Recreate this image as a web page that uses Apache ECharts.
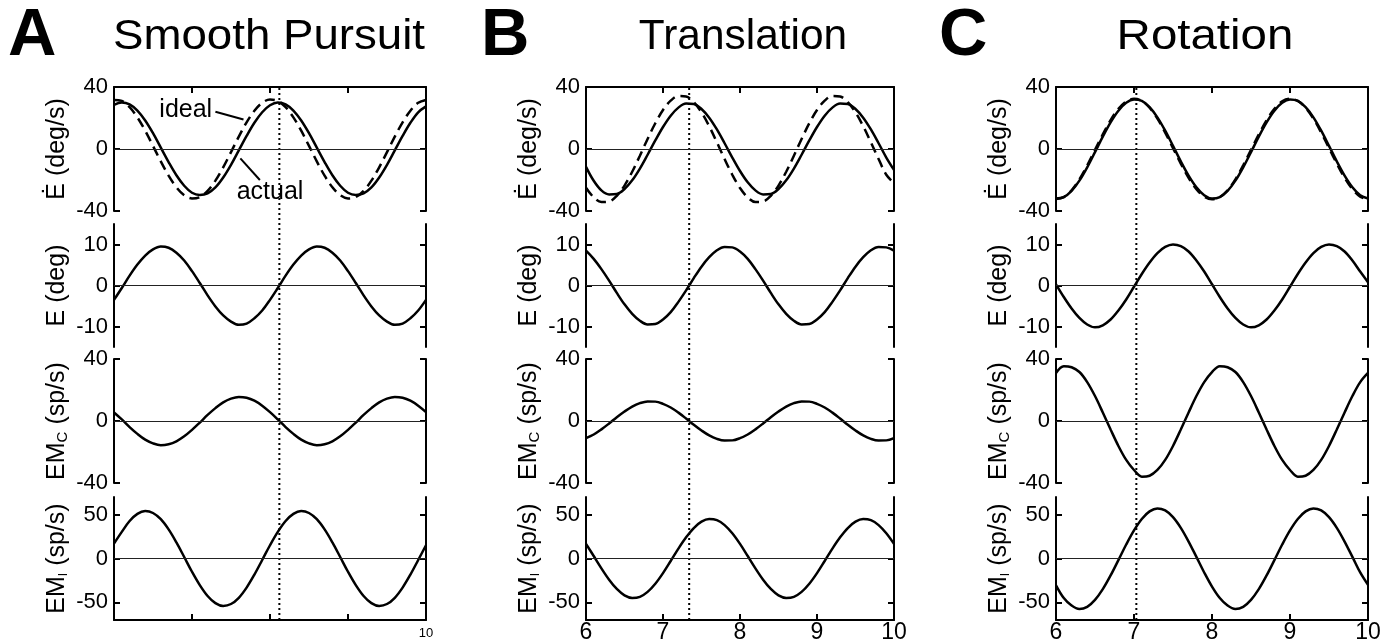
<!DOCTYPE html>
<html>
<head>
<meta charset="utf-8">
<title>Smooth Pursuit / Translation / Rotation</title>
<script src="https://cdn.jsdelivr.net/npm/echarts@6/dist/echarts.min.js"></script>
<style>
  html, body { margin: 0; padding: 0; background: #fff; }
  #chart { width: 1396px; height: 644px; }
</style>
</head>
<body>
<div id="chart"></div>
<script>
// time axis (s)
var timeS = [6.0, 6.1, 6.2, 6.3, 6.4, 6.5, 6.6, 6.7, 6.8, 6.9,
  7.0, 7.1, 7.2, 7.3, 7.4, 7.5, 7.6, 7.7, 7.8, 7.9,
  8.0, 8.1, 8.2, 8.3, 8.4, 8.5, 8.6, 8.7, 8.8, 8.9,
  9.0, 9.1, 9.2, 9.3, 9.4, 9.5, 9.6, 9.7, 9.8, 9.9, 10.0];

// A - smooth pursuit
var pursuitVelIdeal = [31.6, 31.0, 27.0, 20.4, 11.8, 2.0, -8.0, -17.2, -24.7, -29.8,
  -31.9, -31.0, -27.0, -20.4, -11.8, -2.0, 8.0, 17.2, 24.7, 29.8,
  31.9, 31.0, 27.0, 20.4, 11.8, 2.0, -8.0, -17.2, -24.7, -29.8,
  -31.9, -31.0, -27.0, -20.4, -11.8, -2.0, 8.0, 17.2, 24.7, 29.8, 31.6];
var pursuitVelActual = [28.5, 30.0, 28.8, 24.8, 18.4, 10.2, 0.9, -8.4, -16.9, -23.7,
  -28.2, -29.6, -28.6, -24.8, -18.4, -10.2, -0.9, 8.4, 16.9, 23.7,
  28.2, 30.0, 28.8, 24.8, 18.4, 10.2, 0.9, -8.4, -16.9, -23.7,
  -28.2, -29.6, -28.6, -24.8, -18.4, -10.2, -0.9, 8.4, 16.9, 23.7, 27.5];
var pursuitPos = [-3.5, -0.6, 2.4, 5.1, 7.3, 8.8, 9.5, 9.2, 8.0, 6.1,
  3.5, 0.6, -2.4, -5.1, -7.3, -8.8, -9.6, -9.3, -8.0, -6.1,
  -3.5, -0.6, 2.4, 5.1, 7.3, 8.8, 9.5, 9.2, 8.0, 6.1,
  3.5, 0.6, -2.4, -5.1, -7.3, -8.8, -9.6, -9.3, -8.0, -6.1, -3.5];
var pursuitEMc = [5.5, 1.0, -3.9, -8.3, -12.0, -14.4, -15.6, -15.0, -13.1, -9.9,
  -5.7, -1.0, 3.9, 8.3, 12.0, 14.4, 15.5, 15.0, 13.1, 9.9,
  5.7, 1.0, -3.9, -8.3, -12.0, -14.4, -15.6, -15.0, -13.1, -9.9,
  -5.7, -1.0, 3.9, 8.3, 12.0, 14.4, 15.5, 15.0, 13.1, 9.9, 5.7];
var pursuitEMi = [17.0, 30.3, 42.7, 50.8, 54.0, 51.8, 44.7, 33.1, 18.3, 1.7,
  -15.1, -30.3, -42.7, -50.8, -54.0, -51.8, -44.7, -33.1, -18.3, -1.7,
  15.1, 30.3, 42.7, 50.8, 54.0, 51.8, 44.7, 33.1, 18.3, 1.7,
  -15.1, -30.3, -42.7, -50.8, -54.0, -51.8, -44.7, -33.1, -18.3, -1.7, 15.1];

// B - translation
var translationVelIdeal = [-25.0, -31.2, -34.2, -33.9, -30.2, -23.6, -14.7, -4.3, 6.5, 16.6,
  25.2, 31.2, 34.2, 33.9, 30.2, 23.6, 14.7, 4.3, -6.5, -16.6,
  -25.2, -31.2, -34.2, -33.9, -30.2, -23.6, -14.7, -4.3, 6.5, 16.6,
  25.2, 31.2, 34.2, 33.9, 30.2, 23.6, 14.7, 4.3, -6.5, -16.6, -22.0];
var translationVelActual = [-11.5, -20.5, -26.7, -29.3, -29.0, -25.8, -20.2, -12.6, -3.7, 5.5,
  14.2, 21.5, 26.7, 29.3, 29.0, 25.8, 20.2, 12.6, 3.7, -5.5,
  -14.2, -21.5, -26.7, -29.3, -29.0, -25.8, -20.2, -12.6, -3.7, 5.5,
  14.2, 21.5, 26.7, 29.3, 29.0, 25.8, 20.2, 12.6, 3.7, -5.5, -13.5];
var translationPos = [8.5, 6.5, 4.0, 1.2, -1.8, -4.6, -6.9, -8.6, -9.5, -9.4,
  -8.3, -6.5, -4.0, -1.2, 1.8, 4.6, 6.9, 8.6, 9.4, 9.3,
  8.3, 6.5, 4.0, 1.2, -1.8, -4.6, -6.9, -8.6, -9.5, -9.4,
  -8.3, -6.5, -4.0, -1.2, 1.8, 4.6, 6.9, 8.6, 9.4, 9.3, 8.5];
var translationEMc = [-11.0, -8.7, -5.4, -1.6, 2.4, 6.1, 9.3, 11.5, 12.6, 12.5,
  11.1, 8.7, 5.4, 1.6, -2.4, -6.1, -9.3, -11.5, -12.6, -12.5,
  -11.1, -8.7, -5.4, -1.6, 2.4, 6.1, 9.3, 11.5, 12.6, 12.5,
  11.1, 8.7, 5.4, 1.6, -2.4, -6.1, -9.3, -11.5, -12.6, -12.5, -11.0];
var translationEMi = [16.6, 2.8, -11.2, -24.1, -34.7, -41.9, -44.9, -43.6, -38.0, -28.7,
  -16.6, -2.8, 11.2, 24.1, 34.7, 41.9, 44.9, 43.6, 38.0, 28.7,
  16.6, 2.8, -11.2, -24.1, -34.7, -41.9, -44.9, -43.6, -38.0, -28.7,
  -16.6, -2.8, 11.2, 24.1, 34.7, 41.9, 44.9, 43.6, 38.0, 28.7, 16.6];

// C - rotation
var rotationVelIdeal = [-32.3, -31.0, -26.6, -19.6, -10.6, -0.6, 9.4, 18.6, 25.9, 30.7,
  32.4, 31.0, 26.6, 19.6, 10.6, 0.6, -9.4, -18.6, -25.9, -30.7,
  -32.4, -31.0, -26.6, -19.6, -10.6, -0.6, 9.4, 18.6, 25.9, 30.7,
  32.4, 31.0, 26.6, 19.6, 10.6, 0.6, -9.4, -18.6, -25.9, -30.7, -32.3];
var rotationVelActual = [-31.9, -31.0, -27.0, -20.4, -11.8, -2.0, 8.0, 17.2, 24.7, 29.8,
  31.9, 31.0, 27.0, 20.4, 11.8, 2.0, -8.0, -17.2, -24.7, -29.8,
  -31.9, -31.0, -27.0, -20.4, -11.8, -2.0, 8.0, 17.2, 24.7, 29.8,
  31.9, 31.0, 27.0, 20.4, 11.8, 2.0, -8.0, -17.2, -24.7, -29.8, -31.9];
var rotationPos = [0.3, -2.8, -5.6, -7.9, -9.5, -10.2, -9.7, -8.3, -6.1, -3.4,
  -0.3, 2.8, 5.6, 7.9, 9.4, 10.0, 9.6, 8.3, 6.1, 3.4,
  0.3, -2.8, -5.6, -7.9, -9.5, -10.2, -9.7, -8.3, -6.1, -3.4,
  -0.3, 2.8, 5.6, 7.9, 9.4, 10.0, 9.6, 8.3, 6.1, 3.4, 0.8];
var rotationEMc = [31.0, 35.4, 34.7, 31.6, 25.1, 16.1, 5.5, -5.5, -16.1, -25.1,
  -31.6, -35.9, -35.3, -31.6, -25.1, -16.1, -5.5, 5.5, 16.1, 25.1,
  31.6, 35.4, 34.7, 31.6, 25.1, 16.1, 5.5, -5.5, -16.1, -25.1,
  -31.6, -35.9, -35.3, -31.6, -25.1, -16.1, -5.5, 5.5, 16.1, 25.1, 31.0];
var rotationEMi = [-30.5, -45.0, -53.6, -57.5, -55.0, -47.1, -34.9, -19.3, -1.8, 15.9,
  32.0, 45.0, 53.6, 57.0, 54.7, 47.1, 34.9, 19.3, 1.8, -15.9,
  -32.0, -45.0, -53.6, -57.5, -55.0, -47.1, -34.9, -19.3, -1.8, 15.9,
  32.0, 45.0, 53.6, 57.0, 54.7, 47.1, 34.9, 19.3, 1.8, -15.9, -30.0];

// vertical cursor time for each panel
var cursorTimes = [8.12, 7.34, 7.03];
var cursorSpan = [0, 1];

// tick labels
var xTickLabelsA = [10];
var xTickLabelsBC = [6, 7, 8, 9, 10];
var velTicks = [-40, 0, 40];
var posTicks = [-10, 0, 10];
var emcTicks = [-40, 0, 40];
var emiTicks = [-50, 0, 50];

// "ideal" / "actual" notes in panel A (data coords)
var idealNote = { text: 'ideal', at: [6.92, 25], arrow: [[7.30, 24], [7.66, 19]] };
var actualNote = { text: 'actual', at: [8.0, -28], arrow: [[7.87, -20], [7.62, -6]] };

var FONT = '"Liberation Sans", Arial, Helvetica, sans-serif';

var panels = [
  { letter: 'A', title: 'Smooth Pursuit', left: 114, width: 312, letterX: 8, titleX: 269, titleScale: 1.087,
    data: [[pursuitVelIdeal, pursuitVelActual], pursuitPos, pursuitEMc, pursuitEMi],
    xLabels: xTickLabelsA, xLabelSize: 13, xLabelMargin: 7 },
  { letter: 'B', title: 'Translation', left: 586, width: 308, letterX: 481, titleX: 743, titleScale: 1.01,
    data: [[translationVelIdeal, translationVelActual], translationPos, translationEMc, translationEMi],
    xLabels: xTickLabelsBC, xLabelSize: 23, xLabelMargin: 1 },
  { letter: 'C', title: 'Rotation', left: 1056, width: 312, letterX: 939, titleX: 1205, titleScale: 1.13,
    data: [[rotationVelIdeal, rotationVelActual], rotationPos, rotationEMc, rotationEMi],
    xLabels: xTickLabelsBC, xLabelSize: 23, xLabelMargin: 1 }
];

var rows = [
  { top: 87, height: 124, min: -40, max: 40, ticks: velTicks, name: '\u0116 (deg/s)' },
  { top: 224, height: 123, min: -15, max: 15, ticks: posTicks, name: 'E (deg)' },
  { top: 359, height: 124, min: -40, max: 40, ticks: emcTicks, name: '{m|EM}{c|C}{m| (sp/s)}' },
  { top: 497, height: 123, min: -70, max: 70, ticks: emiTicks, name: '{m|EM}{i|I}{m| (sp/s)}' }
];

function pairs(ys) {
  return timeS.map(function (t, i) { return [t, ys[i]]; });
}

var black = '#000';
var axisLineStyle = { color: black, width: 2 };
var zeroLine = {
  silent: true, symbol: ['none', 'none'], label: { show: false },
  lineStyle: { color: '#222', width: 1, type: 'solid' },
  data: [{ yAxis: 0 }]
};

var grids = [], xAxes = [], yAxes = [], series = [], graphics = [];

panels.forEach(function (p) {
  rows.forEach(function (r, ri) {
    var g = grids.length;
    grids.push({ left: p.left, top: r.top, width: p.width, height: r.height });

    var xa = {
      type: 'value', gridIndex: g, min: 6, max: 10, interval: 1,
      splitLine: { show: false },
      axisLine: { show: true, onZero: false, lineStyle: axisLineStyle },
      axisTick: { show: true, inside: true, length: 6, lineStyle: axisLineStyle },
      axisLabel: { show: false }
    };
    if (ri === 0) {
      xa.position = 'top';
    } else if (ri === 3) {
      xa.position = 'bottom';
      xa.axisLabel = {
        show: true, customValues: p.xLabels, fontSize: p.xLabelSize,
        fontFamily: FONT, color: black, margin: p.xLabelMargin
      };
    } else {
      xa.show = false;
    }
    xAxes.push(xa);

    var yBase = {
      type: 'value', gridIndex: g, min: r.min, max: r.max,
      splitLine: { show: false },
      axisLine: { show: true, onZero: false, lineStyle: axisLineStyle },
      axisTick: { show: true, inside: true, length: 6, customValues: r.ticks, lineStyle: axisLineStyle }
    };
    yAxes.push(Object.assign({}, yBase, {
      position: 'left',
      axisLabel: { customValues: r.ticks, fontSize: 22, fontFamily: FONT, color: black, margin: 6 },
      name: r.name, nameLocation: 'middle', nameRotate: 90, nameGap: 44,
      nameTextStyle: {
        fontSize: 25, fontFamily: FONT, color: black,
        rich: {
          m: { fontSize: 25, fontFamily: FONT, color: black, verticalAlign: 'bottom' },
          c: { fontSize: 15, fontFamily: FONT, color: black, verticalAlign: 'bottom' },
          i: { fontSize: 12, fontFamily: FONT, color: black, verticalAlign: 'bottom' }
        }
      }
    }));
    yAxes.push(Object.assign({}, yBase, {
      position: 'right', axisLabel: { show: false }
    }));

    var yIdx = yAxes.length - 2;
    var lines = ri === 0 ? p.data[0] : [p.data[ri]];
    lines.forEach(function (ys, li) {
      var dashed = ri === 0 && li === 0;
      var s = {
        type: 'line', xAxisIndex: g, yAxisIndex: yIdx, data: pairs(ys),
        showSymbol: false, smooth: 0.35, silent: true,
        lineStyle: { color: black, width: 2.5, type: dashed ? [10, 6] : 'solid' },
        z: 3
      };
      if (li === 0) s.markLine = zeroLine;
      series.push(s);
    });

    // notes only in panel A top plot
    if (p.letter === 'A' && ri === 0) {
      [idealNote, actualNote].forEach(function (n) {
        series.push({
          type: 'line', xAxisIndex: g, yAxisIndex: yIdx, data: [], silent: true,
          markLine: {
            silent: true, symbol: ['none', 'arrow'], symbolSize: [0, 12], label: { show: false },
            lineStyle: { color: black, width: 2, type: 'solid' },
            data: [[{ coord: n.arrow[0] }, { coord: n.arrow[1] }]]
          },
          markPoint: {
            silent: true, symbol: 'circle', symbolSize: 1, itemStyle: { color: 'rgba(0,0,0,0)' },
            label: { show: true, position: 'inside', formatter: n.text, fontSize: 25, fontFamily: FONT, color: black },
            data: [{ coord: n.at }]
          }
        });
      });
    }
  });

  graphics.push({
    type: 'text', x: p.letterX, y: 37,
    style: { text: p.letter, font: 'bold 67px ' + FONT, fill: black, align: 'left', verticalAlign: 'middle' }
  });
  graphics.push({
    type: 'text', x: p.titleX, y: 37, scaleX: p.titleScale,
    style: { text: p.title, font: '42px ' + FONT, fill: black, align: 'center', verticalAlign: 'middle' }
  });
});

// dotted cursor lines spanning all four plots
panels.forEach(function (p, pi) {
  var g = grids.length;
  grids.push({ left: p.left, top: 87, width: p.width, height: 533 });
  xAxes.push({ type: 'value', gridIndex: g, min: 6, max: 10, show: false });
  yAxes.push({ type: 'value', gridIndex: g, min: 0, max: 1, show: false });
  series.push({
    type: 'line', xAxisIndex: g, yAxisIndex: yAxes.length - 1, silent: true,
    data: cursorSpan.map(function (v) { return [cursorTimes[pi], v]; }),
    showSymbol: false,
    lineStyle: { color: black, width: 2, type: [2, 3] },
    z: 4
  });
});

var chart = echarts.init(document.getElementById('chart'));
chart.setOption({
  animation: false,
  backgroundColor: '#fff',
  grid: grids,
  xAxis: xAxes,
  yAxis: yAxes,
  series: series,
  graphic: graphics
});
</script>
</body>
</html>
